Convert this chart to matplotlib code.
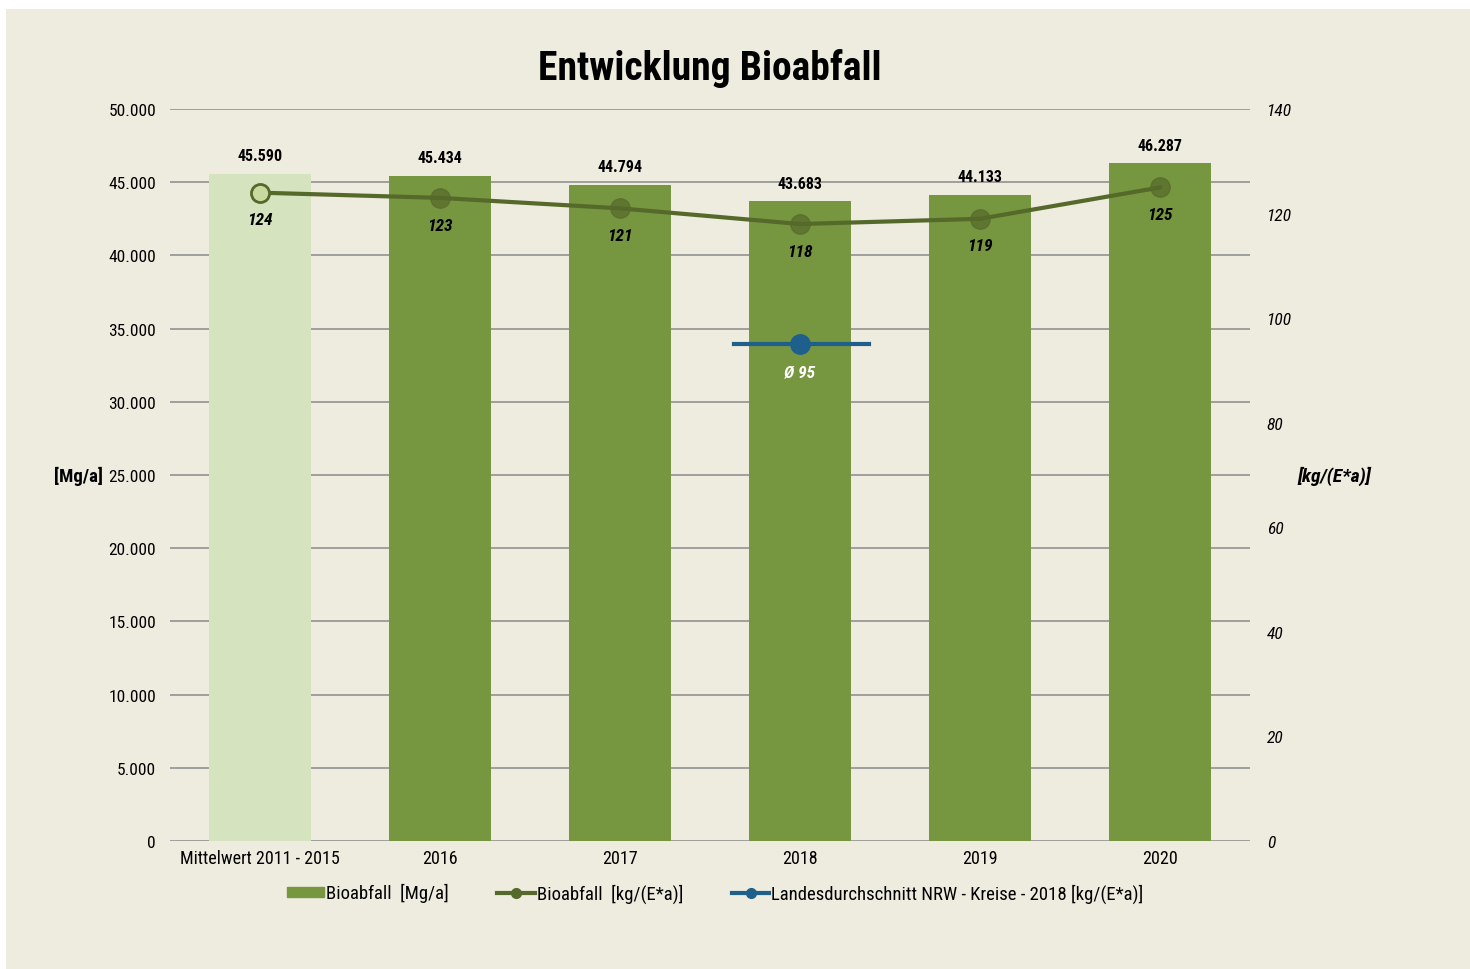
import matplotlib.pyplot as plt
import matplotlib.patches as mpatches
from matplotlib.lines import Line2D

plt.rcParams['font.family'] = ['Roboto Condensed', 'DejaVu Sans']

# Daten
kategorien = ["Mittelwert 2011 - 2015", "2016", "2017", "2018", "2019", "2020"]
menge_mg = [45590, 45434, 44794, 43683, 44133, 46287]
spez_kg = [124, 123, 121, 118, 119, 125]
nrw_index = 3
nrw_wert = 95

def fmt(v):
    return f"{v:,}".replace(",", ".")

bg = "#EEEBDF"
hell = "#D5E3BE"
gruen = "#779640"
oliv = "#55692A"
blau = "#1F5F8B"

fig = plt.figure(figsize=(14.7, 9.7), dpi=100, facecolor="white")
fig.patches.append(mpatches.Rectangle((6 / 1470, 0), 1, 960 / 970, transform=fig.transFigure,
                                      facecolor=bg, edgecolor="none", zorder=-1))

ax = fig.add_axes([170 / 1470, 128 / 970, 1080 / 1470, 732 / 970])
ax.set_facecolor("none")
x = list(range(len(kategorien)))
farben = [hell] + [gruen] * (len(x) - 1)
ax.bar(x, menge_mg, width=0.57, color=farben, zorder=2)
ax.set_xlim(-0.5, len(x) - 0.5)
ax.set_ylim(0, 50000)
ax.set_yticks(range(0, 50001, 5000))
ax.set_yticklabels([fmt(v) for v in range(0, 50001, 5000)], fontsize=12.5)
ax.yaxis.grid(True, color="#9E9E9E", linewidth=1.4, zorder=0)
ax.tick_params(axis="y", length=0, pad=10)
ax.set_xticks(x)
ax.set_xticklabels(kategorien, fontsize=13)
ax.tick_params(axis="x", length=0, pad=6)
for s in ax.spines.values():
    s.set_visible(False)
for xi, v in zip(x, menge_mg):
    ax.text(xi, v + 1250, fmt(v), ha="center", va="center", fontsize=11.5, fontweight="bold")
ax.text(-0.062, 0.5, "[Mg/a]", transform=ax.transAxes, ha="right", va="center",
        fontsize=13.5, fontweight="bold")

ax2 = ax.twinx()
ax2.set_ylim(0, 140)
ax2.set_yticks(range(0, 141, 20))
ax2.set_yticklabels([str(v) for v in range(0, 141, 20)], fontsize=12.5, style="italic")
ax2.tick_params(axis="y", length=0, pad=12)
for s in ax2.spines.values():
    s.set_visible(False)
ax2.plot(x, spez_kg, color=oliv, linewidth=3, zorder=3)
ax2.plot(x[1:], spez_kg[1:], "o", color=oliv, markersize=14, alpha=0.7, zorder=4)
ax2.plot(x[0], spez_kg[0], "o", markerfacecolor="#C9DA9F", markeredgecolor=oliv,
         markeredgewidth=2, markersize=13, zorder=4)
for xi, v in zip(x, spez_kg):
    ax2.text(xi, v - 5.2, str(v), ha="center", va="center", fontsize=12.5,
             fontweight="bold", style="italic")
ax2.plot([nrw_index - 0.367, nrw_index + 0.383], [nrw_wert, nrw_wert], color=blau, linewidth=3, zorder=3)
ax2.plot(nrw_index, nrw_wert, "o", color=blau, markersize=14, zorder=4)
ax2.text(nrw_index, nrw_wert - 5.3, f"Ø {nrw_wert}", ha="center", va="center", fontsize=12.5,
         fontweight="bold", style="italic", color="white")
ax2.text(1.044, 0.5, "[kg/(E*a)]", transform=ax.transAxes, ha="left", va="center",
         fontsize=14, fontweight="bold", style="italic")

fig.text(710 / 1470, 1 - 68 / 970, "Entwicklung Bioabfall", ha="center", va="center",
         fontsize=28.5, fontweight="bold")

handles = [
    mpatches.Patch(color=gruen, label="Bioabfall  [Mg/a]"),
    Line2D([], [], color=oliv, linewidth=3, marker="o", markersize=7, label="Bioabfall  [kg/(E*a)]"),
    Line2D([], [], color=blau, linewidth=3, marker="o", markersize=7,
           label="Landesdurchschnitt NRW - Kreise - 2018 [kg/(E*a)]"),
]
fig.legend(handles=handles, loc="center", bbox_to_anchor=(715 / 1470, 1 - 894 / 970), ncol=3,
           frameon=False, fontsize=13.5, handlelength=2.0, handleheight=0.45, handletextpad=0.1,
           columnspacing=2.6)

fig.savefig("out.png", dpi=100, facecolor="white")
